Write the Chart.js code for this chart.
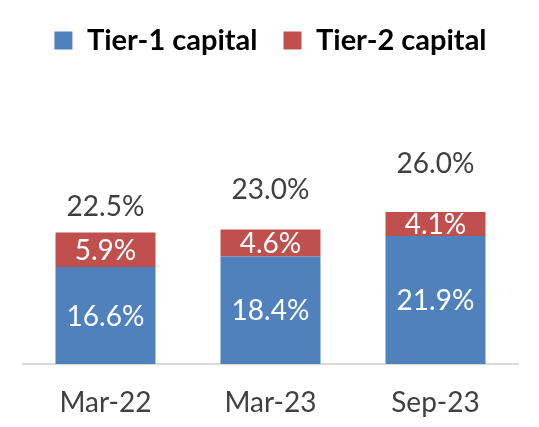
<!DOCTYPE html>
<html>
<head>
<meta charset="utf-8">
<script src="https://cdn.jsdelivr.net/npm/chart.js@4.4.0/dist/chart.umd.min.js"></script>
<style>
html,body{margin:0;padding:0;background:#fff;}
#wrap{width:539px;height:427px;}
</style>
</head>
<body>
<div id="wrap"><canvas id="c" width="539" height="427"></canvas></div>
<script>
const categories = ['Mar-22', 'Mar-23', 'Sep-23'];
const tier1 = [16.6, 18.4, 21.9];
const tier2 = [5.9, 4.6, 4.1];
const totals = [22.5, 23.0, 26.0];
// level (in axis units) at which each total label is centred
const totalLabelLevel = [27.0, 30.0, 34.4];

const FONT = 'Lato, "Open Sans", sans-serif';

const legendHeightPlugin = {
  id: 'legendHeight',
  beforeInit(chart) {
    const origFit = chart.legend.fit;
    chart.legend.fit = function () {
      origFit.bind(chart.legend)();
      this.height = 70;
    };
  }
};

const labelPlugin = {
  id: 'valueLabels',
  afterDatasetsDraw(chart) {
    const ctx = chart.ctx;
    const yScale = chart.scales.y;
    ctx.save();
    ctx.font = '28px ' + FONT;
    ctx.textAlign = 'center';
    ctx.textBaseline = 'middle';
    chart.data.datasets.forEach((ds, di) => {
      const meta = chart.getDatasetMeta(di);
      meta.data.forEach((bar, i) => {
        const mid = (bar.y + bar.base) / 2;
        ctx.fillStyle = '#ffffff';
        ctx.fillText(ds.data[i].toFixed(1) + '%', bar.x, mid + 1);
      });
    });
    const meta0 = chart.getDatasetMeta(0);
    ctx.fillStyle = '#404040';
    totals.forEach((t, i) => {
      const x = meta0.data[i].x;
      ctx.fillText(t.toFixed(1) + '%', x, yScale.getPixelForValue(totalLabelLevel[i]) + 1);
    });
    ctx.restore();
  }
};

new Chart(document.getElementById('c'), {
  type: 'bar',
  data: {
    labels: categories,
    datasets: [
      { label: 'Tier-1 capital', data: tier1, backgroundColor: '#4f81bd', borderWidth: 0,
        categoryPercentage: 1.0, barPercentage: 0.606 },
      { label: 'Tier-2 capital', data: tier2, backgroundColor: '#c0504d', borderWidth: 0,
        categoryPercentage: 1.0, barPercentage: 0.606 }
    ]
  },
  options: {
    responsive: false,
    animation: false,
    devicePixelRatio: 1,
    layout: { padding: { left: 23, right: 21, top: 0, bottom: 0 } },
    plugins: {
      legend: {
        display: true,
        position: 'top',
        labels: {
          boxWidth: 18,
          boxHeight: 18,
          padding: 26,
          color: '#000000',
          font: { family: FONT, size: 29, weight: 'bold' }
        }
      },
      tooltip: { enabled: false }
    },
    scales: {
      x: {
        stacked: true,
        grid: { display: false, drawTicks: false },
        border: { display: true, color: '#d9d9d9', width: 2 },
        ticks: { color: '#404040', padding: 22, font: { family: FONT, size: 28 } },
        afterFit(scale) { scale.height = 63; }
      },
      y: {
        stacked: true,
        display: false,
        min: 0,
        max: 50.3
      }
    }
  },
  plugins: [labelPlugin, legendHeightPlugin]
});
</script>
</body>
</html>
